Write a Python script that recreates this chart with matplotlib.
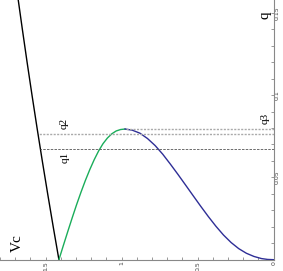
import matplotlib.pyplot as plt
from matplotlib.ticker import MultipleLocator

# Vc on the (reversed) horizontal axis, q on the vertical axis
black_q = [0.0, 0.02, 0.04, 0.06, 0.08, 0.10, 0.12, 0.14, 0.1578]
black_vc = [1.4125, 1.450, 1.4864, 1.5218, 1.5562, 1.5895, 1.6218, 1.653, 1.680]

green_vc = [1.4125, 1.3835, 1.3545, 1.3255, 1.2965, 1.2675, 1.2385, 1.2095,
            1.1805, 1.1515, 1.1225, 1.0935, 1.0645, 1.0355, 1.0065, 0.9775]
green_q = [0.0, 0.0086, 0.01705, 0.02536, 0.03339, 0.04098, 0.04815, 0.05474,
           0.06075, 0.06606, 0.0705, 0.07394, 0.07652, 0.07824, 0.0791, 0.0794]

blue_vc = [0.0, 0.04, 0.08, 0.13, 0.18, 0.23, 0.28, 0.33, 0.38, 0.43, 0.48,
           0.53, 0.58, 0.63, 0.68, 0.73, 0.78, 0.83, 0.88, 0.93, 0.9775]
blue_q = [0.0, 0.00016, 0.00068, 0.00198, 0.00393, 0.00673, 0.01043, 0.01498,
          0.02033, 0.02623, 0.03248, 0.03893, 0.04543, 0.05188, 0.05813, 0.06413,
          0.06938, 0.07363, 0.07688, 0.0787, 0.0794]

q1, q2, q3 = 0.0673, 0.0764, 0.0794
vc_q1, vc_q2, vc_q3 = 1.5345, 1.550, 0.9775

fig = plt.figure(figsize=(2.83, 2.71), dpi=100)
ax = fig.add_axes([0.0, 0.0417, 0.9671, 0.9583])

ax.plot(black_vc, black_q, color="black", lw=1.0)
ax.plot(green_vc, green_q, color="#1aad5a", lw=1.0)
ax.plot(blue_vc, blue_q, color="#2e2e96", lw=1.0)

ax.plot([0, vc_q1], [q1, q1], color="#555555", lw=0.6, ls=(0, (3, 1.5)))
ax.plot([0, vc_q2], [q2, q2], color="#aaaaaa", lw=1.0, ls=(0, (1.5, 1)))
ax.plot([0, vc_q3], [q3, q3], color="#aaaaaa", lw=1.0, ls=(0, (1.5, 1)))

ax.set_xlim(1.80, 0)
ax.set_ylim(0, 0.1578)

for s in ["left", "top"]:
    ax.spines[s].set_visible(False)
for s in ["right", "bottom"]:
    ax.spines[s].set_color("#888888")
    ax.spines[s].set_linewidth(0.8)

ax.yaxis.tick_right()
ax.xaxis.set_major_locator(MultipleLocator(0.5))
ax.xaxis.set_minor_locator(MultipleLocator(0.1))
ax.yaxis.set_major_locator(MultipleLocator(0.05))
ax.yaxis.set_minor_locator(MultipleLocator(0.01))
ax.tick_params(which="both", direction="in", length=2.5, width=0.6, color="#888888",
               labelsize=4.5, labelcolor="#444444", pad=1)
ax.set_xticks([1.5, 1.0, 0.5, 0.0])
ax.set_xticklabels(["1.5", "1", "0.5", "0"], rotation=90, va="top")
ax.set_yticks([0.05, 0.1, 0.15])
ax.set_yticklabels(["0.05", "0.1", "0.15"], rotation=90, va="center")

serif = "Liberation Serif"
ax.text(1.689, 0.0101, "Vc", rotation=90, fontsize=11, family=serif, ha="center", va="center")
ax.text(0.057, 0.1487, "q", rotation=90, fontsize=11, family=serif, ha="center", va="center")
ax.text(1.373, 0.0624, "q1", rotation=90, fontsize=8, family=serif, ha="center", va="center")
ax.text(1.380, 0.0831, "q2", rotation=90, fontsize=8, family=serif, ha="center", va="center")
ax.text(0.057, 0.0861, "q3", rotation=90, fontsize=8, family=serif, ha="center", va="center")

fig.savefig("out.png", dpi=100)
